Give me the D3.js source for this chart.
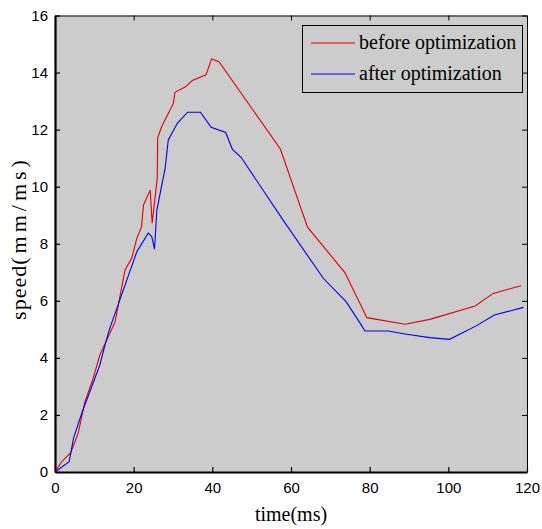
<!DOCTYPE html>
<html>
<head>
<meta charset="utf-8">
<script src="https://cdn.jsdelivr.net/npm/d3@7"></script>
<style>
  body { margin: 0; background: #fff; }
  svg { display: block; }
</style>
</head>
<body>
<svg id="chart" width="542" height="529"></svg>
<script>
// series: [time (ms), speed (mm/ms)]
const beforeData = [
  [0, 0], [1.7, 0.36], [4, 0.68], [5.9, 1.36], [7.6, 2.46], [9.7, 3.28], [11.4, 4.1],
  [13.4, 4.7], [15.3, 5.27], [17.8, 7.08], [19.5, 7.49], [20.8, 8.19], [22.0, 8.6],
  [22.5, 9.36], [24.2, 9.88], [24.7, 8.72], [26.0, 10.3], [26.1, 11.7], [27.1, 12.1],
  [30.1, 12.92], [30.5, 13.31], [33.2, 13.5], [34.9, 13.72], [38.4, 13.92], [39.8, 14.48],
  [41.7, 14.38], [57.3, 11.32], [64.2, 8.58], [73.7, 6.99], [79.3, 5.41], [89.0, 5.18],
  [95.3, 5.35], [106.8, 5.82], [111.4, 6.26], [118.5, 6.53]
];
const afterData = [
  [0, 0], [3.6, 0.36], [4.7, 1.18], [6.8, 2.06], [11.4, 3.75], [12.7, 4.45], [13.8, 4.98],
  [20.8, 7.72], [23.7, 8.37], [24.6, 8.25], [25.3, 7.81], [25.9, 9.18], [27.4, 10.23],
  [28.0, 10.64], [28.8, 11.64], [31.1, 12.22], [33.7, 12.61], [37.0, 12.61], [39.7, 12.08],
  [43.4, 11.9], [45.1, 11.31], [47.3, 11.03], [58.0, 8.83], [68.2, 6.79], [74.0, 5.97],
  [77.6, 5.21], [78.8, 4.94], [84.7, 4.94], [89.4, 4.83], [95.3, 4.71], [100.3, 4.65],
  [107.2, 5.13], [111.7, 5.5], [119.1, 5.77]
];
const xTicks = [0, 20, 40, 60, 80, 100, 120];
const yTicks = [0, 2, 4, 6, 8, 10, 12, 14, 16];
const seriesNames = ["before optimization", "after optimization"];
const seriesColors = ["#e00000", "#0000e6"];

const svg = d3.select("#chart");
const margin = {left: 55, top: 15.5, right: 15, bottom: 57};
const width = 542, height = 529;

const x = d3.scaleLinear().domain([0, 120]).range([margin.left, width - margin.right]);
const y = d3.scaleLinear().domain([0, 16]).range([height - margin.bottom, margin.top]);

// fundo cinza da área do gráfico
svg.append("rect")
  .attr("x", x(0)).attr("y", y(16))
  .attr("width", x(120) - x(0)).attr("height", y(0) - y(16))
  .attr("fill", "#cccccc");

const tickFont = "'Liberation Sans', Arial, sans-serif";
const serif = "'Liberation Serif', 'Times New Roman', serif";

// eixos: ticks para dentro
const axisBottom = svg.append("g")
  .attr("transform", `translate(0,${y(0)})`)
  .call(d3.axisBottom(x).tickValues(xTicks).tickSizeInner(-5).tickSizeOuter(0).tickPadding(10));
const axisLeft = svg.append("g")
  .attr("transform", `translate(${x(0)},0)`)
  .call(d3.axisLeft(y).tickValues(yTicks).tickSizeInner(-5).tickSizeOuter(0).tickPadding(7));
const axisTop = svg.append("g")
  .attr("transform", `translate(0,${y(16)})`)
  .call(d3.axisTop(x).tickValues(xTicks).tickSizeInner(-5).tickSizeOuter(0).tickFormat(""));
const axisRight = svg.append("g")
  .attr("transform", `translate(${x(120)},0)`)
  .call(d3.axisRight(y).tickValues(yTicks).tickSizeInner(-5).tickSizeOuter(0).tickFormat(""));

[axisBottom, axisLeft].forEach(g => {
  g.select(".domain").attr("stroke", "#000").attr("stroke-width", 2.2);
  g.selectAll(".tick line").attr("stroke", "#000").attr("stroke-width", 1.2);
  g.selectAll(".tick text").attr("font-family", tickFont).attr("font-size", 15).attr("fill", "#000");
});
[axisTop, axisRight].forEach(g => {
  g.select(".domain").attr("stroke", "#000").attr("stroke-width", 1);
  g.selectAll(".tick line").attr("stroke", "#000").attr("stroke-width", 1);
});

// linhas
const line = d3.line().x(d => x(d[0])).y(d => y(d[1]));
[beforeData, afterData].forEach((data, i) => {
  svg.append("path")
    .datum(data)
    .attr("fill", "none")
    .attr("stroke", seriesColors[i])
    .attr("stroke-width", 1.1)
    .attr("d", line);
});

// legenda
const legend = svg.append("g").attr("class", "legend");
legend.append("rect")
  .attr("x", 302.5).attr("y", 25.5).attr("width", 220).attr("height", 67)
  .attr("fill", "#cccccc").attr("stroke", "#000").attr("stroke-width", 1);
seriesNames.forEach((name, i) => {
  const ly = 43 + i * 31;
  legend.append("line")
    .attr("x1", 311).attr("x2", 355).attr("y1", ly).attr("y2", ly)
    .attr("stroke", seriesColors[i]).attr("stroke-width", 1.1);
  legend.append("text")
    .attr("x", 359).attr("y", ly + 6)
    .attr("font-family", serif).attr("font-size", 20)
    .text(name);
});

// rótulos dos eixos
svg.append("text")
  .attr("text-anchor", "middle")
  .attr("x", 291).attr("y", 521)
  .attr("font-family", serif).attr("font-size", 20)
  .text("time(ms)");

const yLabel = svg.append("text")
  .attr("text-anchor", "middle")
  .attr("transform", "translate(26,238) rotate(-90)")
  .attr("font-family", serif).attr("font-size", 22);
yLabel.append("tspan").attr("letter-spacing", 1).text("speed");
yLabel.append("tspan").attr("letter-spacing", 4).text("(mm/ms)");
</script>
</body>
</html>
